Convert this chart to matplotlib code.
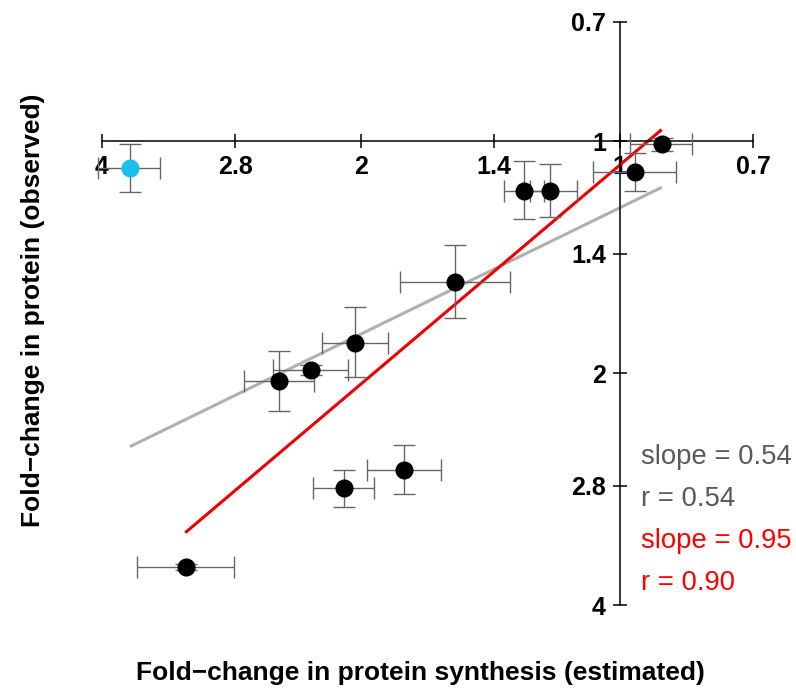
import matplotlib
matplotlib.use("Agg")
import matplotlib.pyplot as plt
import numpy as np

plt.rcParams['font.family'] = ['Liberation Sans', 'DejaVu Sans']

# fold-change values (x = estimated synthesis, y = observed protein)
x_val = [0.894, 0.961, 1.292, 1.204, 1.555, 2.032, 2.286, 2.490, 1.781, 2.091, 3.195]
x_low = [0.825, 0.861, 1.226, 1.122, 1.342, 1.859, 2.069, 2.265, 1.612, 1.930, 2.812]
x_high = [0.972, 1.074, 1.363, 1.272, 1.801, 2.220, 2.529, 2.737, 1.970, 2.273, 3.643]
y_val = [1.009, 1.096, 1.160, 1.160, 1.524, 1.825, 1.983, 2.048, 2.667, 2.818, 3.569]
y_low = [0.990, 1.035, 1.062, 1.069, 1.364, 1.642, 1.952, 1.873, 2.475, 2.667, 3.534]
y_high = [1.030, 1.160, 1.263, 1.254, 1.697, 2.023, 2.012, 2.240, 2.872, 2.984, 3.603]

# outlier (blue)
out_x, out_xlow, out_xhigh = 3.71, 3.42, 4.04
out_y, out_ylow, out_yhigh = 1.084, 1.009, 1.165

# fit lines (endpoints)
gray_x = [3.71, 0.894]
gray_y = [2.49, 1.148]
red_x = [3.20, 0.894]
red_y = [3.22, 0.966]

ticks = [4, 2.8, 2, 1.4, 1, 0.7]
tick_labels = ['4', '2.8', '2', '1.4', '1', '0.7']

W, H = 796, 691
fig = plt.figure(figsize=(W / 100, H / 100), dpi=100)
ax = fig.add_axes([90 / W, 1 - 620 / H, 680 / W, 605 / H])

ax.set_xscale('log', base=2)
ax.set_yscale('log', base=2)
ax.set_xlim(4.13, 0.669)
ax.set_ylim(4.18, 0.686)

# fit lines
ax.plot(gray_x, gray_y, color='#b0b0b0', lw=2.2, zorder=2, solid_capstyle='butt')
ax.plot(red_x, red_y, color='#ee0000', lw=2.2, zorder=2, solid_capstyle='butt')

xv = np.array(x_val)
yv = np.array(y_val)
xerr = [xv - np.array(x_low), np.array(x_high) - xv]
yerr = [yv - np.array(y_low), np.array(y_high) - yv]
ax.errorbar(xv, yv, xerr=xerr, yerr=yerr, fmt='none', ecolor='#666666',
            elinewidth=1.0, capsize=8, capthick=1.0, zorder=3)
ax.plot(xv, yv, 'o', color='black', ms=12, zorder=4)

ax.errorbar([out_x], [out_y], xerr=[[out_x - out_xlow], [out_xhigh - out_x]],
            yerr=[[out_y - out_ylow], [out_yhigh - out_y]], fmt='none',
            ecolor='#666666', elinewidth=1.0, capsize=8, capthick=1.0, zorder=3)
ax.plot([out_x], [out_y], 'o', color='#1abff0', ms=12, zorder=4)

# crossing axes
for s in ['top', 'right']:
    ax.spines[s].set_visible(False)
ax.spines['left'].set_position(('data', 1.0))
ax.spines['bottom'].set_position(('data', 1.0))
ax.spines['left'].set_bounds(0.7, 4)
ax.spines['bottom'].set_bounds(0.7, 4)
ax.spines['left'].set_linewidth(1.1)
ax.spines['bottom'].set_linewidth(1.1)

ax.set_xticks(ticks)
ax.set_xticklabels(tick_labels)
ax.set_yticks(ticks)
ax.set_yticklabels(tick_labels)
ax.minorticks_off()
ax.tick_params(axis='both', direction='inout', length=10, width=1.1,
               labelsize=18, pad=5)
for lab in ax.get_xticklabels() + ax.get_yticklabels():
    lab.set_fontweight('bold')

fig.text(33 / W, 1 - 310 / H, 'Fold\u2212change in protein (observed)', rotation=90,
         ha='center', va='center', fontsize=19, fontweight='bold')
fig.text(420 / W, 1 - 673 / H, 'Fold\u2212change in protein synthesis (estimated)',
         ha='center', va='center', fontsize=19, fontweight='bold')

stats = [('slope = 0.54', '#5a5a5a'), ('r = 0.54', '#5a5a5a'),
         ('slope = 0.95', '#ff0000'), ('r = 0.90', '#ff0000')]
for i, (txt, col) in enumerate(stats):
    fig.text(641 / W, 1 - (457 + 42 * i) / H, txt, color=col, fontsize=19.8,
             ha='left', va='center')

fig.savefig('out.png', dpi=100)
